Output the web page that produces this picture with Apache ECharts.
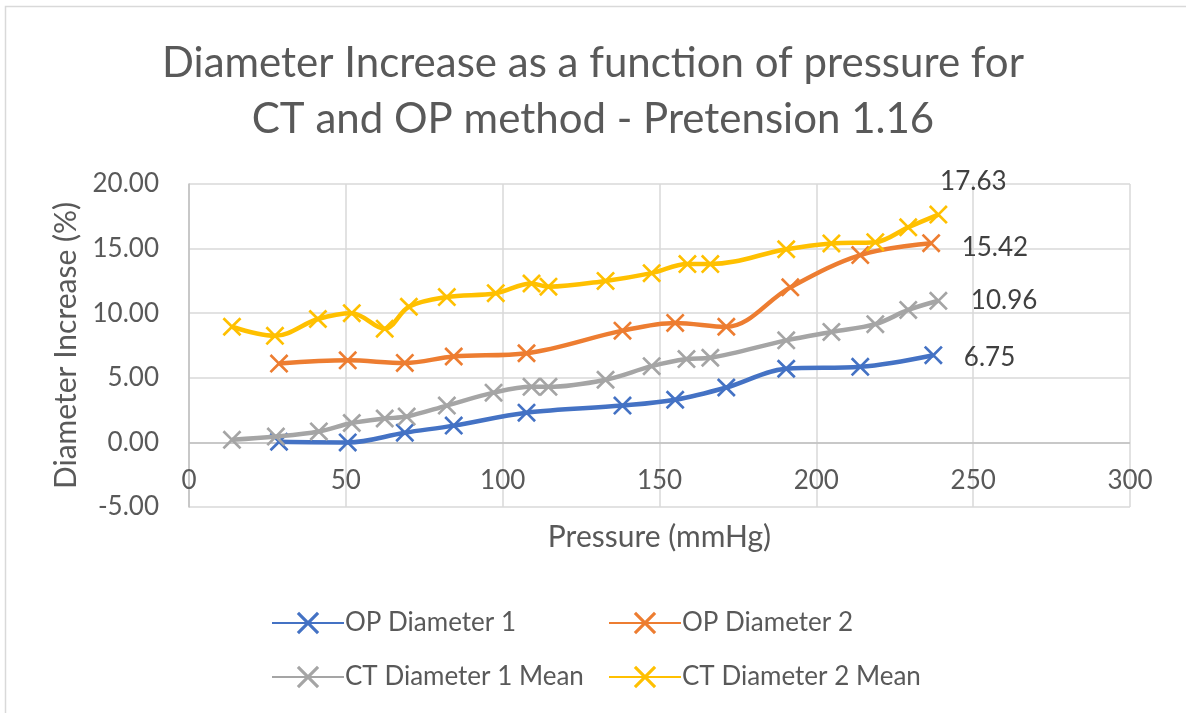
<!DOCTYPE html>
<html>
<head>
<meta charset="utf-8">
<script src="https://cdn.jsdelivr.net/npm/echarts@6/dist/echarts.min.js"></script>
<style>
html,body{margin:0;padding:0;background:#fff;}
#c{width:1186px;height:713px;}
</style>
</head>
<body>
<div id="c"></div>
<script>
var seriesNames = ['OP Diameter 1', 'OP Diameter 2', 'CT Diameter 1 Mean', 'CT Diameter 2 Mean'];
var colors = ['#4472C4', '#ED7D31', '#A5A5A5', '#FFC000'];

var op1X = [28.7, 50.6, 68.8, 84.4, 107.6, 138.2, 155, 171.3, 190.4, 214, 237.3];
var op1Y = [0.05, 0.0, 0.75, 1.3, 2.3, 2.85, 3.3, 4.25, 5.7, 5.85, 6.75];

var op2X = [28.7, 50.6, 68.8, 84.4, 107.6, 138.2, 155, 171.3, 191.7, 214, 236.6];
var op2Y = [6.1, 6.35, 6.15, 6.65, 6.9, 8.65, 9.25, 8.95, 12.0, 14.5, 15.42];

var ct1X = [13.7, 27.7, 41.4, 51.9, 62.4, 69.4, 82.2, 97.1, 109.2, 114.6, 132.8, 147.5, 158.6, 166.2, 190.4, 204.8, 218.8, 229.3, 238.9];
var ct1Y = [0.2, 0.45, 0.85, 1.5, 1.85, 2.0, 2.85, 3.85, 4.3, 4.3, 4.85, 5.9, 6.45, 6.55, 7.9, 8.55, 9.15, 10.25, 10.96];

var ct2X = [13.7, 27.4, 41.1, 51.9, 62.4, 70.1, 82.2, 97.8, 109.2, 114.6, 132.8, 147.5, 158.9, 166.2, 190.4, 204.8, 218.8, 229.3, 238.9];
var ct2Y = [8.95, 8.25, 9.55, 10.0, 8.8, 10.5, 11.25, 11.55, 12.3, 12.05, 12.5, 13.1, 13.8, 13.8, 14.95, 15.4, 15.5, 16.65, 17.63];

var xTicks = [0, 50, 100, 150, 200, 250, 300];
var yTicks = [-5, 0, 5, 10, 15, 20];

var crossPath = 'path://M0,1L1,0L5,4L9,0L10,1L6,5L10,9L9,10L5,6L1,10L0,9L4,5Z';
var font = 'Lato, "Open Sans", sans-serif';

var labelOpts = [
  {position: 'right', distance: 21, offset: [0, 2]},
  {position: 'right', distance: 21, offset: [0, 4]},
  {position: 'right', distance: 23, offset: [0, 0]},
  {position: 'top', distance: 14, offset: [35, 3]}
];

function build(xs, ys, idx) {
  return xs.map(function (x, i) {
    var item = {value: [x, ys[i]]};
    if (i === xs.length - 1) {
      item.label = Object.assign({
        show: true,
        formatter: function (p) { return p.value[1].toFixed(2); },
        fontSize: 26,
        color: '#404040',
        fontFamily: font
      }, labelOpts[idx]);
    }
    return item;
  });
}

var allX = [op1X, op2X, ct1X, ct2X];
var allY = [op1Y, op2Y, ct1Y, ct2Y];

var series = seriesNames.map(function (n, i) {
  var s = {
    name: n,
    type: 'line',
    smooth: 0.35,
    data: build(allX[i], allY[i], i),
    symbol: crossPath,
    symbolSize: 19,
    symbolKeepAspect: true,
    itemStyle: {color: colors[i]},
    lineStyle: {color: colors[i], width: 4.5},
    z: 3 + i
  };
  if (i === 0) {
    s.markLine = {
      silent: true,
      symbol: 'none',
      label: {show: false},
      lineStyle: {color: '#bfbfbf', width: 1.5, type: 'solid'},
      data: [{yAxis: 0}],
      z: 1
    };
  }
  return s;
});

var chart = echarts.init(document.getElementById('c'));
chart.setOption({
  animation: false,
  backgroundColor: '#fff',
  graphic: [{
    type: 'rect',
    shape: {x: 5.5, y: 6.5, width: 1200, height: 720},
    style: {fill: 'none', stroke: '#d9d9d9', lineWidth: 1.5},
    silent: true
  }],
  title: {
    text: 'Diameter Increase as a function of pressure for\nCT and OP method - Pretension 1.16',
    left: 'center',
    top: 30,
    textStyle: {fontSize: 42, fontWeight: 'normal', color: '#595959', fontFamily: font, lineHeight: 56}
  },
  legend: [{
    orient: 'vertical',
    left: 266,
    top: 605,
    itemGap: 28,
    itemWidth: 72,
    itemHeight: 28,
    data: ['OP Diameter 1', 'CT Diameter 1 Mean'],
    textStyle: {fontSize: 26, color: '#595959', fontFamily: font, padding: [0, 0, 0, -4]}
  }, {
    orient: 'vertical',
    left: 603,
    top: 605,
    itemGap: 28,
    itemWidth: 72,
    itemHeight: 28,
    data: ['OP Diameter 2', 'CT Diameter 2 Mean'],
    textStyle: {fontSize: 26, color: '#595959', fontFamily: font, padding: [0, 0, 0, -4]}
  }],
  grid: {left: 189, top: 184, width: 941, height: 323, containLabel: false},
  xAxis: {
    type: 'value',
    min: xTicks[0],
    max: xTicks[xTicks.length - 1],
    interval: 50,
    name: 'Pressure (mmHg)',
    nameLocation: 'middle',
    nameGap: 15,
    nameTextStyle: {fontSize: 30, color: '#595959', fontFamily: font},
    axisLine: {show: false, onZero: false},
    axisTick: {show: false},
    axisLabel: {fontSize: 26, color: '#595959', fontFamily: font, margin: -39},
    splitLine: {show: true, lineStyle: {color: '#d9d9d9', width: 1.5}}
  },
  yAxis: {
    type: 'value',
    min: yTicks[0],
    max: yTicks[yTicks.length - 1],
    interval: 5,
    name: 'Diameter Increase (%)',
    nameLocation: 'middle',
    nameGap: 106,
    nameTextStyle: {fontSize: 30, color: '#595959', fontFamily: font},
    axisLine: {show: true, lineStyle: {color: '#bfbfbf', width: 1.5}},
    axisTick: {show: false},
    axisLabel: {fontSize: 26, color: '#595959', fontFamily: font, margin: 30,
      formatter: function (v) { return v.toFixed(2); }},
    splitLine: {show: true, lineStyle: {color: '#d9d9d9', width: 1.5}}
  },
  series: series
});
</script>
</body>
</html>
